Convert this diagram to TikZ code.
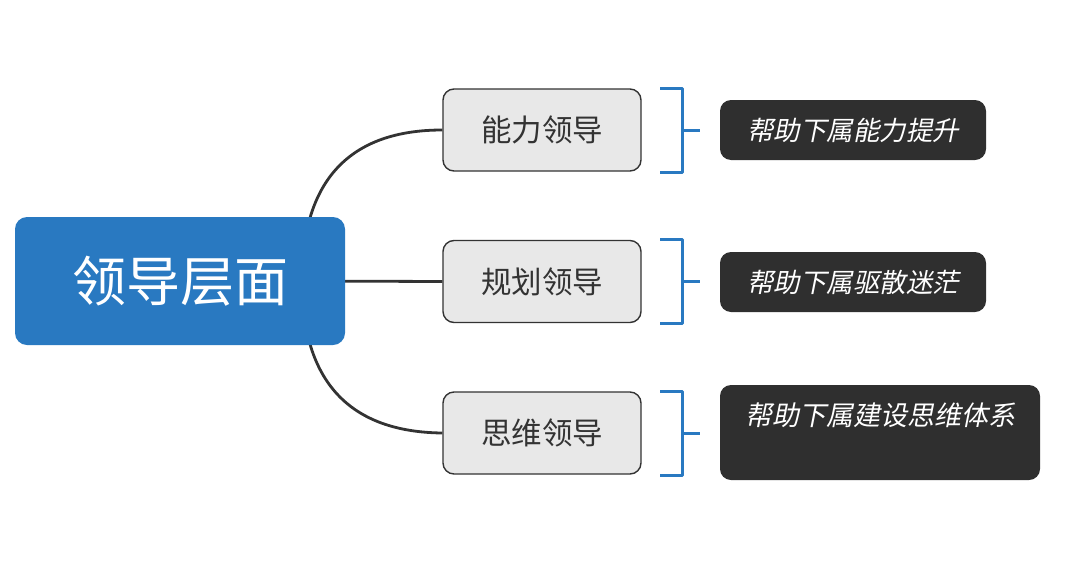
\documentclass[tikz,border=0pt]{standalone}
\usepackage{fontspec}
\usepackage{xcolor}
\usetikzlibrary{backgrounds}
\setmainfont{Noto Sans CJK SC}
\newfontfamily\cjkslant[FakeSlant=0.2]{Noto Sans CJK SC}
\definecolor{leadblue}{HTML}{2979C1}
\definecolor{boxgray}{HTML}{E8E8E8}
\definecolor{boxdark}{HTML}{2F2F2F}
\definecolor{linegray}{HTML}{333333}

\begin{document}
\begin{tikzpicture}[x=1pt,y=-1pt,line join=round,
  topic/.style={draw=linegray,fill=boxgray,rounded corners=11pt,line width=1.4pt,
    minimum width=198pt,minimum height=82pt,text=linegray,font=\fontsize{30.5}{31}\selectfont},
  note/.style={fill=boxdark,rounded corners=11pt,text=white,minimum height=60pt,
    font=\cjkslant\fontsize{26.5}{27}\selectfont},
  brace/.style={leadblue,line width=3pt},
  branch/.style={linegray,line width=2.8pt}]
  \useasboundingbox (0,0) rectangle (1076,568);
  % central topic
  \node[fill=leadblue,rounded corners=12pt,minimum width=330pt,minimum height=128pt,
    text=white,font=\fontsize{54}{56}\selectfont] (lead) at (180,281) {领导层面};
  % sub topics
  \node[topic] (ability) at (542,130) {能力领导};
  \node[topic] (plan) at (542,281.5) {规划领导};
  \node[topic] (mind) at (542,433) {思维领导};
  % notes
  \node[note,minimum width=266pt] (n1) at (853,130) {帮助下属能力提升};
  \node[note,minimum width=266pt] (n2) at (853,282) {帮助下属驱散迷茫};
  \node[note,minimum width=320pt,font=\cjkslant\fontsize{27}{28}\selectfont,
    inner ysep=9pt,text height=31pt,text depth=46pt] (n3) at (880,432.5) {帮助下属建设思维体系};
  % branches
  \begin{scope}[on background layer]
    \coordinate (root) at (302,281);
    \draw[branch] (root) .. controls (302,180) and (350,130) .. (ability.west);
    \draw[branch] (root) -- (plan.west);
    \draw[branch] (root) .. controls (302,382) and (350,432) .. (mind.west);
  \end{scope}
  % brackets
  \foreach \y in {130,281.5,433}{
    \draw[brace] (660,\y-42) -- (682,\y-42) -- (682,\y+42) -- (660,\y+42);
    \draw[brace] (682,\y) -- (700,\y);
  }
\end{tikzpicture}
\end{document}
